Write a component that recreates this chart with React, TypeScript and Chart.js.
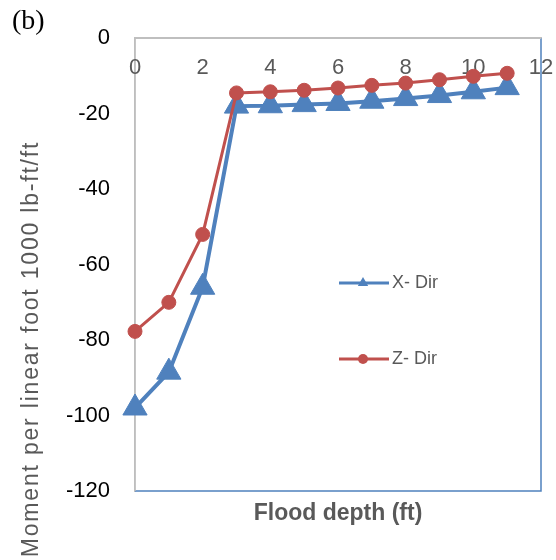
import React, { useEffect, useRef } from 'react';
import { Chart, registerables } from 'chart.js';

Chart.register(...registerables);

// ---- data ----
const depths = [0, 1, 2, 3, 4, 5, 6, 7, 8, 9, 10, 11];
const xDirMoment = [-98, -88.5, -66, -18, -17.9, -17.6, -17.3, -16.7, -16, -15.2, -14.2, -13.1];
const zDirMoment = [-77.7, -70, -52, -14.5, -14.2, -13.8, -13.2, -12.5, -11.9, -11, -10.1, -9.3];
const seriesNames = ['X- Dir', 'Z- Dir'];
const xRange = [0, 12];
const xStep = 2;
const yRange = [-120, 0];
const yStep = 20;
const panelLabel = '(b)';
const xTitle = 'Flood depth (ft)';
const yTitle = 'Moment per linear foot 1000 lb-ft/ft';

// ---- styles ----
const BLUE = '#4F81BD';
const RED = '#C0504D';
const GRAY = '#595959';
const AXIS = '#BFBFBF';
const FONT = '"Liberation Sans", Arial, sans-serif';

function drawMarker(ctx: CanvasRenderingContext2D, kind: string, x: number, y: number, r: number, color: string) {
  ctx.fillStyle = color;
  ctx.beginPath();
  if (kind === 'triangle') {
    const h = r * 1.5;
    const w = r * Math.sqrt(3);
    ctx.moveTo(x, y - h / 2 - r * 0.25);
    ctx.lineTo(x + w / 2, y + h / 2 - r * 0.25);
    ctx.lineTo(x - w / 2, y + h / 2 - r * 0.25);
    ctx.closePath();
  } else {
    ctx.arc(x, y, r, 0, Math.PI * 2);
  }
  ctx.fill();
}

const decorPlugin = {
  id: 'decor',
  beforeDatasetsDraw(chart: any) {
    const { ctx, chartArea: a } = chart;
    ctx.save();
    ctx.strokeStyle = BLUE;
    ctx.lineWidth = 1.5;
    ctx.beginPath();
    ctx.moveTo(a.left, a.bottom);
    ctx.lineTo(a.right, a.bottom);
    ctx.lineTo(a.right, a.top);
    ctx.stroke();
    ctx.strokeStyle = AXIS;
    ctx.beginPath();
    ctx.moveTo(a.left, a.bottom);
    ctx.lineTo(a.left, a.top);
    ctx.lineTo(a.right, a.top);
    ctx.stroke();

    // x tick labels, placed just inside the plot below the top axis
    const xs = chart.scales.x;
    ctx.fillStyle = GRAY;
    ctx.font = `22px ${FONT}`;
    ctx.textAlign = 'center';
    ctx.textBaseline = 'middle';
    xs.ticks.forEach((t: any) => {
      ctx.fillText(String(t.value), xs.getPixelForValue(t.value), a.top + 30);
    });
    ctx.restore();
  },
  afterDraw(chart: any) {
    const { ctx, chartArea: a } = chart;
    ctx.save();
    // panel label
    ctx.fillStyle = '#000';
    ctx.font = '28px "Liberation Serif", "Times New Roman", serif';
    ctx.textAlign = 'left';
    ctx.textBaseline = 'alphabetic';
    ctx.fillText(panelLabel, 12, 29);

    // x title
    ctx.fillStyle = GRAY;
    ctx.font = `bold 23px ${FONT}`;
    ctx.textAlign = 'center';
    ctx.textBaseline = 'middle';
    ctx.fillText(xTitle, (a.left + a.right) / 2, 514);

    // y title
    ctx.save();
    ctx.translate(32, 349);
    ctx.rotate(-Math.PI / 2);
    ctx.font = `23px ${FONT}`;
    (ctx as any).letterSpacing = '1.8px';
    ctx.fillStyle = GRAY;
    ctx.textAlign = 'center';
    ctx.textBaseline = 'middle';
    ctx.fillText(yTitle, 0, 0);
    ctx.restore();

    // legend
    const items = [
      { y: 283, ds: chart.data.datasets[0] },
      { y: 359, ds: chart.data.datasets[1] },
    ];
    items.forEach(({ y, ds }) => {
      ctx.strokeStyle = ds.borderColor;
      ctx.lineWidth = 3;
      ctx.beginPath();
      ctx.moveTo(339, y);
      ctx.lineTo(389, y);
      ctx.stroke();
      drawMarker(ctx, ds.pointStyle, 363, y, ds.pointStyle === 'triangle' ? 6 : 5, ds.pointBackgroundColor);
      ctx.fillStyle = GRAY;
      ctx.font = `18px ${FONT}`;
      ctx.textAlign = 'left';
      ctx.textBaseline = 'middle';
      ctx.fillText(ds.label, 392, y);
    });
    ctx.restore();
  },
};

export default function App() {
  const canvasRef = useRef<HTMLCanvasElement | null>(null);

  useEffect(() => {
    const canvas = canvasRef.current;
    if (!canvas) return;
    const chart = new Chart(canvas, {
      type: 'line',
      data: {
        datasets: [
          {
            label: seriesNames[0],
            data: depths.map((d, i) => ({ x: d, y: xDirMoment[i] })),
            borderColor: BLUE,
            backgroundColor: BLUE,
            pointBackgroundColor: BLUE,
            pointBorderColor: BLUE,
            pointStyle: 'triangle',
            pointRadius: 14,
            pointBorderWidth: 1,
            borderWidth: 4,
            tension: 0,
            clip: false as any,
            order: 1,
          },
          {
            label: seriesNames[1],
            data: depths.map((d, i) => ({ x: d, y: zDirMoment[i] })),
            borderColor: RED,
            backgroundColor: RED,
            pointBackgroundColor: RED,
            pointBorderColor: RED,
            pointStyle: 'circle',
            pointRadius: 7,
            pointBorderWidth: 1,
            borderWidth: 3,
            tension: 0,
            clip: false as any,
            order: 0,
          },
        ],
      },
      options: {
        animation: false,
        responsive: false,
        maintainAspectRatio: false,
        layout: { padding: { left: 0, top: 34, right: 14, bottom: 69 } },
        plugins: {
          legend: { display: false },
          tooltip: { enabled: false },
          title: { display: false },
        },
        scales: {
          x: {
            type: 'linear',
            position: 'top',
            min: xRange[0],
            max: xRange[1],
            grid: { display: false, drawTicks: false },
            border: { display: true, color: AXIS, width: 1.5 },
            ticks: { stepSize: xStep, display: false, autoSkip: false },
            afterFit(scale: any) {
              scale.height = 0;
            },
          },
          y: {
            type: 'linear',
            min: yRange[0],
            max: yRange[1],
            grid: { display: false, drawTicks: false },
            border: { display: true, color: AXIS, width: 1.5 },
            ticks: {
              stepSize: yStep,
              color: '#000',
              font: { family: FONT, size: 22 },
              padding: 25,
            },
            afterFit(scale: any) {
              scale.width = 135;
            },
          },
        },
      },
      plugins: [decorPlugin],
    });
    return () => chart.destroy();
  }, []);

  return (
    <div style={{ position: 'fixed', left: 0, top: 0, width: 556, height: 560, background: '#fff' }}>
      <canvas ref={canvasRef} width={556} height={560} />
    </div>
  );
}
